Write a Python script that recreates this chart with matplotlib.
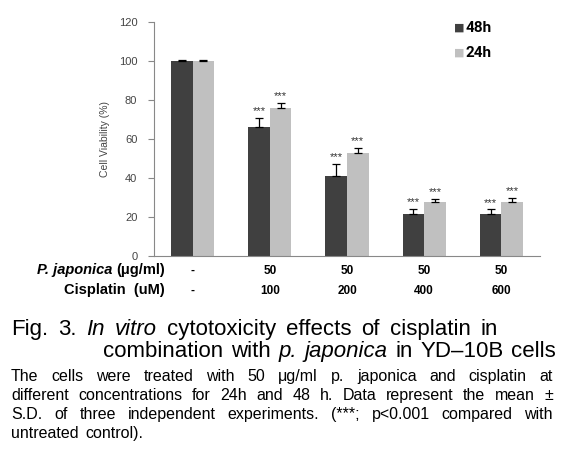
import matplotlib
matplotlib.use("Agg")
import matplotlib.pyplot as plt
import numpy as np

# dados
grupos = ["-", "50", "50", "50", "50"]
cisplatina = ["-", "100", "200", "400", "600"]
v48 = [100, 66, 41, 21.3, 21.3]
e48 = [0.4, 4.8, 6.2, 3.0, 2.6]
v24 = [100, 76, 53, 27.6, 27.9]
e24 = [0.4, 2.4, 2.4, 1.7, 1.8]
sig48 = ["", "***", "***", "***", "***"]
sig24 = ["", "***", "***", "***", "***"]

W, H = 572, 458
fam = "Liberation Sans"

fig = plt.figure(figsize=(W / 100, H / 100), dpi=100)
ax = fig.add_axes([154 / W, 1 - 256 / H, 386 / W, 234 / H])
r = fig.canvas.get_renderer()

x = np.arange(len(v48))
w = 0.28
cinza = "#888888"
ax.bar(x - w / 2, v48, w, color="#404040", zorder=2)
ax.bar(x + w / 2, v24, w, color="#c0c0c0", zorder=2)
ax.errorbar(x - w / 2, v48, yerr=[np.zeros(5), e48], fmt="none", ecolor="black",
            elinewidth=0.9, capsize=3, capthick=0.9, zorder=3)
ax.errorbar(x + w / 2, v24, yerr=[np.zeros(5), e24], fmt="none", ecolor="black",
            elinewidth=0.9, capsize=3, capthick=0.9, zorder=3)
for i in range(len(x)):
    if sig48[i]:
        ax.text(x[i] - w / 2, v48[i] + e48[i] + 0.8, sig48[i], ha="center", va="bottom",
                fontsize=8, color="#333333", family=fam)
    if sig24[i]:
        ax.text(x[i] + w / 2, v24[i] + e24[i] + 0.8, sig24[i], ha="center", va="bottom",
                fontsize=8, color="#333333", family=fam)

ax.set_xlim(-0.5, 4.5)
ax.set_ylim(0, 120)
ax.set_yticks(np.arange(0, 121, 20))
ax.set_xticks([])
ax.tick_params(axis="y", length=4, color=cinza, labelsize=8, labelcolor="#444444", pad=8)
for lab in ax.get_yticklabels():
    lab.set_family(fam)
for s in ["top", "right"]:
    ax.spines[s].set_visible(False)
for s in ["left", "bottom"]:
    ax.spines[s].set_color(cinza)
    ax.spines[s].set_linewidth(0.8)
ax.set_ylabel("Cell Viability (%)", fontsize=7.5, color="#444444", family=fam, labelpad=6)

# legenda
for yy, cor, txt in [(28, "#404040", "48h"), (53, "#c0c0c0", "24h")]:
    fig.text(459 / W, 1 - yy / H, "\u25A0", color=cor, fontsize=8, ha="center", va="center",
             family="DejaVu Sans")
    fig.text(466 / W, 1 - yy / H, txt, fontsize=11, weight="bold", ha="left", va="center",
             family="Roboto")

# linhas da tabela
tsz = 10.5
fig.text(165 / W, 1 - 270 / H, "(\u03bcg/ml)", fontsize=tsz, weight="bold", ha="right", va="center",
         family=fam)
tmp = fig.text(0, 0, " (\u03bcg/ml)", fontsize=tsz, weight="bold", family=fam)
wd = tmp.get_window_extent(r).width
tmp.remove()
fig.text((165 - wd) / W, 1 - 270 / H, "P. japonica", fontsize=tsz, weight="bold", style="italic",
         ha="right", va="center", family=fam)
fig.text(165 / W, 1 - 290 / H, "Cisplatin  (uM)", fontsize=tsz, weight="bold", ha="right", va="center",
         family=fam)
for i in range(len(x)):
    px = ax.transData.transform((x[i], 0))[0]
    fig.text(px / W, 1 - 271 / H, grupos[i], fontsize=8.5, weight="bold", ha="center", va="center",
             family=fam)
    fig.text(px / W, 1 - 291 / H, cisplatina[i], fontsize=8.5, weight="bold", ha="center", va="center",
             family=fam)


def justificar(palavras, x0, x1, ybase, size, just=True):
    objs = []
    for p, it in palavras:
        t = fig.text(0, 1 - ybase / H, p, fontsize=size, style="italic" if it else "normal",
                     family=fam, va="baseline", ha="left")
        objs.append(t)
    larg = [t.get_window_extent(r).width for t in objs]
    if just and len(objs) > 1:
        gap = (x1 - x0 - sum(larg)) / (len(objs) - 1)
    else:
        gap = size * 0.6
    pos = x0
    for t, l in zip(objs, larg):
        t.set_x(pos / W)
        pos += l + gap


def pal(s, italicos=()):
    return [(p, p in italicos) for p in s.split()]


justificar(pal("Fig. 3. In vitro cytotoxicity effects of cisplatin in", ("In", "vitro")),
           11, 498, 335, 16)
justificar(pal("combination with p. japonica in YD\u201310B cells", ("p.", "japonica")),
           103, 556, 357, 16)
corpo = [
    "The cells were treated with 50 \u03bcg/ml p. japonica and cisplatin at",
    "different concentrations for 24h and 48 h. Data represent the mean \u00b1",
    "S.D. of three independent experiments. (***; p<0.001 compared with",
    "untreated control).",
]
for k, linha in enumerate(corpo):
    justificar(pal(linha), 11, 553, 381 + k * 19, 11.5, just=(k < 3))

fig.savefig("out.png", dpi=100)
